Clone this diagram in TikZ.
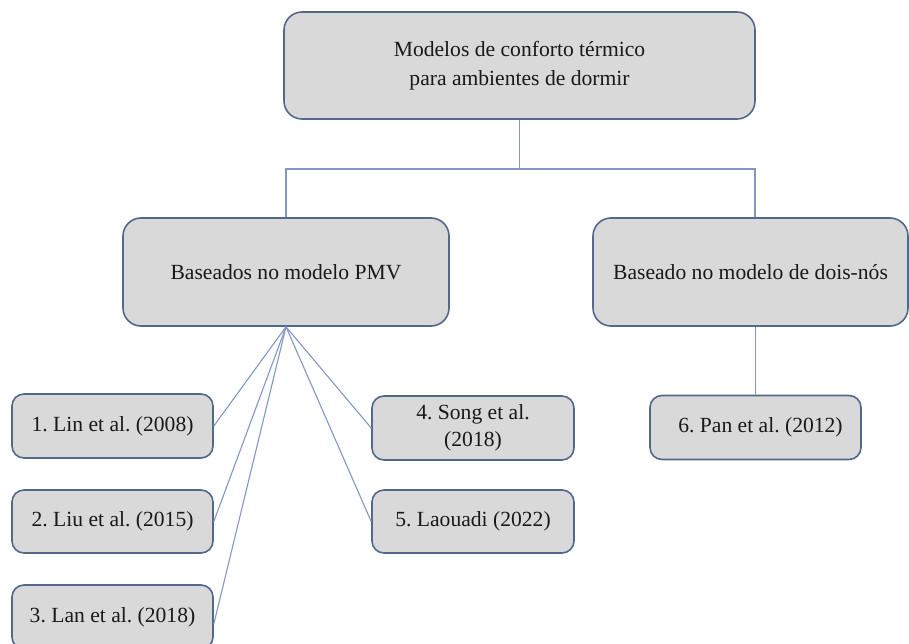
\documentclass[tikz,border=0pt]{standalone}
\usepackage{fontspec}
\setmainfont{Liberation Serif}
\definecolor{boxfill}{RGB}{217,217,217}
\definecolor{boxline}{RGB}{82,104,140}
\definecolor{conn}{RGB}{132,151,196}
\tikzset{
  bigbox/.style={draw=boxline, fill=boxfill, line width=1.6pt, rounded corners=18pt,
    inner sep=0pt, align=center, font=\fontsize{21.6}{29}\selectfont\frenchspacing, text=black!90},
  smallbox/.style={draw=boxline, fill=boxfill, line width=1.6pt, rounded corners=12pt,
    inner sep=0pt, align=center, font=\fontsize{21.6}{27}\selectfont\frenchspacing, text=black!90},
  link/.style={draw=conn, line width=1.1pt}
}
\begin{document}
\begin{tikzpicture}[x=1pt,y=-1pt]
\clip (0,0) rectangle (909,644);
\fill[white] (0,0) rectangle (909,644);
\node[bigbox, minimum width=471pt, minimum height=107pt] (top) at (519.5,65.5)
  {\raisebox{-3pt}{Modelos de conforto térmico}\\\raisebox{-3pt}{para ambientes de dormir}};
\node[bigbox, minimum width=326pt, minimum height=108pt] (pmv) at (286,272)
  {Baseados no modelo PMV};
\node[bigbox, minimum width=315pt, minimum height=108pt] (dn) at (750.5,272)
  {Baseado no modelo de dois-nós};
\node[smallbox, minimum width=201pt, minimum height=64pt] (b1) at (112.5,426)
  {1. Lin et al. (2008)};
\node[smallbox, minimum width=201pt, minimum height=63pt] (b2) at (112.5,521.5)
  {2. Liu et al. (2015)};
\node[smallbox, minimum width=201pt, minimum height=64pt] (b3) at (112.5,617)
  {3. Lan et al. (2018)};
\node[smallbox, minimum width=202pt, minimum height=64pt] (b4) at (473,428)
  {4. Song et al.\\(2018)};
\node[smallbox, minimum width=202pt, minimum height=63pt] (b5) at (473,521.5)
  {5. Laouadi (2022)};
\node[smallbox, minimum width=211pt, minimum height=64pt] (b6) at (755.5,427.5)
  {\hspace*{10pt}6. Pan et al. (2012)};
\coordinate (jl) at (286,169);
\coordinate (jr) at (755,169);
\coordinate (jm) at (519.5,169);
\draw[link] (top.south) -- (jm);
\draw[link] (pmv.north) -- (jl) -- (jr) -- (jr |- dn.north);
\draw[link] (dn.south -| b6.north) -- (b6.north);
\draw[link] (pmv.south) -- (b1.east);
\draw[link] (pmv.south) -- (b2.east);
\draw[link] (pmv.south) -- ([yshift=-7pt]b3.east);
\draw[link] (pmv.south) -- (b4.west);
\draw[link] (pmv.south) -- (b5.west);
\end{tikzpicture}
\end{document}
